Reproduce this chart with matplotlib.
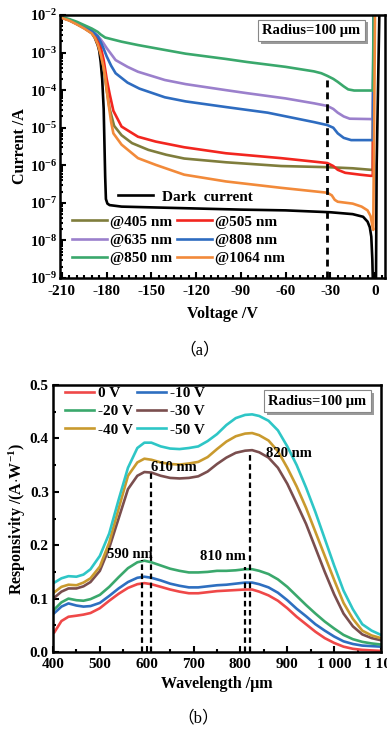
import numpy as np
import matplotlib
matplotlib.use('Agg')
import matplotlib.pyplot as plt
import matplotlib.patheffects as pe
from matplotlib.ticker import MultipleLocator, LogLocator, NullFormatter, FixedLocator, FixedFormatter

plt.rcParams['font.family'] = ['Liberation Serif', 'DejaVu Serif']
plt.rcParams['font.weight'] = 'bold'
plt.rcParams['axes.labelweight'] = 'bold'
plt.rcParams['axes.unicode_minus'] = False
plt.rcParams['mathtext.fontset'] = 'custom'
plt.rcParams['mathtext.rm'] = 'Liberation Serif:bold'
plt.rcParams['mathtext.it'] = 'Liberation Serif:bold'
plt.rcParams['mathtext.bf'] = 'Liberation Serif:bold'
plt.rcParams['mathtext.default'] = 'rm'

# ---------------- (a) I-V data, log10(current / A) ----------------
v_dark = [-210, -205, -200, -195, -190, -188, -186, -185, -184, -183, -182, -181.5, -181, -180.5, -179.5,
          -178, -170, -150, -120, -90, -60, -30, -15, -8, -5, -3.5, -2.5, -1.8, -1.2, 0.6, 1.1, 2.0, 2.9]
lg_dark = [-2.07, -2.14, -2.24, -2.35, -2.48, -2.6, -2.8, -2.95, -3.25, -3.7, -4.5, -5.4, -6.3, -6.9, -7.02,
           -7.06, -7.1, -7.12, -7.15, -7.18, -7.2, -7.25, -7.3, -7.37, -7.5, -7.65, -7.9, -8.5, -9.5, -9.5, -6.0, -4.0, -2.0]

v_405 = [-210, -205, -200, -195, -190, -186, -184, -182, -180, -178, -175, -170, -163, -152, -140, -128,
         -100, -63, -32, -15, -3, -1.5, -0.9]
lg_405 = [-2.07, -2.13, -2.22, -2.33, -2.46, -2.65, -3.0, -3.4, -4.0, -4.5, -4.95, -5.2, -5.41, -5.59, -5.72, -5.82,
          -5.92, -6.02, -6.05, -6.08, -6.12, -6.12, -2.0]

v_505 = [-210, -205, -200, -195, -190, -186, -184, -182, -180, -178, -175.5, -170, -159, -147, -128, -100,
         -63, -32, -28, -25, -20, -10, -3, -1.5, -0.9]
lg_505 = [-2.07, -2.13, -2.22, -2.33, -2.45, -2.62, -2.85, -3.2, -3.7, -4.1, -4.55, -4.97, -5.24, -5.37, -5.52, -5.68,
          -5.81, -5.94, -6.02, -6.12, -6.2, -6.25, -6.28, -6.28, -2.0]

v_635 = [-210, -205, -200, -195, -190, -186, -184, -182, -180, -177, -174, -166, -159, -141, -127, -100,
         -86, -60, -41, -32, -28, -25, -21, -17, -3, -1.5, -0.9]
lg_635 = [-2.07, -2.13, -2.21, -2.31, -2.42, -2.55, -2.65, -2.76, -2.88, -3.04, -3.2, -3.38, -3.51, -3.73, -3.84, -4.0,
          -4.08, -4.22, -4.35, -4.42, -4.5, -4.6, -4.7, -4.76, -4.77, -4.77, -2.0]

v_808 = [-210, -205, -200, -195, -190, -186, -184, -182, -180, -177, -174, -166, -158, -141, -127, -100,
         -72, -41, -32, -28, -25, -21, -16, -3, -1.5, -0.9]
lg_808 = [-2.07, -2.13, -2.21, -2.31, -2.42, -2.57, -2.72, -2.9, -3.1, -3.35, -3.55, -3.8, -3.96, -4.19, -4.3, -4.45,
          -4.6, -4.85, -4.93, -5.0, -5.15, -5.27, -5.33, -5.33, -5.33, -2.0]

v_850 = [-210, -205, -200, -195, -190, -186, -184, -181, -175, -170, -159, -141, -127, -100, -86, -60,
         -41, -36, -32, -28, -25, -21, -18, -14, -3, -1.5, -0.9]
lg_850 = [-2.06, -2.11, -2.18, -2.27, -2.36, -2.45, -2.52, -2.6, -2.66, -2.71, -2.8, -2.93, -3.03, -3.17, -3.25, -3.38,
          -3.5, -3.55, -3.62, -3.7, -3.78, -3.9, -3.98, -4.01, -4.01, -4.01, -2.0]

v_1064 = [-210, -205, -200, -195, -190, -188, -186, -184, -182, -181, -179, -177, -175.5, -170, -159, -147,
          -128, -100, -63, -32, -29, -27, -25, -15, -9, -5, -3, -1.8, -1.2, -0.6, 0.0]
lg_1064 = [-2.08, -2.15, -2.25, -2.36, -2.49, -2.6, -2.78, -3.05, -3.4, -3.64, -4.3, -4.85, -5.15, -5.45, -5.81, -5.99,
           -6.25, -6.43, -6.6, -6.73, -6.8, -6.92, -6.97, -7.02, -7.1, -7.2, -7.35, -7.6, -7.72, -5.0, -2.0]

light_labels = ['@405 nm', '@505 nm', '@635 nm', '@808 nm', '@850 nm', '@1064 nm']
light_colors = ['#7f7d3c', '#f2261f', '#9b80cc', '#2e6cc0', '#3aa86c', '#f28a3a']
v_mark = -32
lg_mark = -3.63

# ---------------- (b) responsivity data ----------------
wl = [403, 418, 433, 450, 465, 480, 500, 520, 540, 560, 580, 595, 610, 630, 650, 670, 690, 710, 730, 750,
      770, 790, 810, 825, 840, 860, 880, 900, 920, 940, 960, 980, 1000, 1020, 1040, 1060, 1080, 1100]
r_0 = [0.037, 0.058, 0.066, 0.068, 0.070, 0.073, 0.082, 0.096, 0.109, 0.120, 0.127, 0.129, 0.127, 0.122, 0.117,
       0.113, 0.110, 0.110, 0.112, 0.114, 0.115, 0.116, 0.117, 0.117, 0.113, 0.106, 0.096, 0.082, 0.066, 0.052,
       0.038, 0.026, 0.017, 0.010, 0.006, 0.004, 0.003, 0.002]
r_10 = [0.073, 0.085, 0.091, 0.087, 0.085, 0.086, 0.092, 0.105, 0.119, 0.131, 0.139, 0.141, 0.139, 0.134, 0.128,
        0.124, 0.121, 0.121, 0.123, 0.125, 0.126, 0.128, 0.130, 0.130, 0.127, 0.121, 0.111, 0.097, 0.081, 0.067,
        0.052, 0.040, 0.029, 0.020, 0.015, 0.012, 0.011, 0.010]
r_20 = [0.080, 0.093, 0.100, 0.097, 0.096, 0.099, 0.107, 0.122, 0.140, 0.157, 0.168, 0.171, 0.168, 0.162, 0.156,
        0.152, 0.149, 0.149, 0.150, 0.152, 0.152, 0.153, 0.155, 0.155, 0.152, 0.146, 0.136, 0.122, 0.105, 0.088,
        0.072, 0.057, 0.044, 0.032, 0.024, 0.019, 0.016, 0.014]
r_30 = [0.102, 0.113, 0.119, 0.119, 0.123, 0.131, 0.152, 0.195, 0.250, 0.305, 0.330, 0.337, 0.336, 0.330, 0.326,
        0.325, 0.326, 0.329, 0.338, 0.352, 0.364, 0.373, 0.377, 0.378, 0.374, 0.364, 0.345, 0.315, 0.278, 0.240,
        0.195, 0.150, 0.108, 0.072, 0.048, 0.033, 0.026, 0.022]
r_40 = [0.112, 0.122, 0.126, 0.125, 0.130, 0.138, 0.160, 0.205, 0.268, 0.330, 0.355, 0.362, 0.360, 0.355, 0.352,
        0.351, 0.353, 0.356, 0.365, 0.380, 0.394, 0.404, 0.409, 0.410, 0.406, 0.396, 0.376, 0.345, 0.310, 0.270,
        0.225, 0.180, 0.135, 0.092, 0.062, 0.040, 0.031, 0.026]
r_50 = [0.130, 0.138, 0.142, 0.141, 0.145, 0.155, 0.180, 0.222, 0.285, 0.345, 0.382, 0.392, 0.392, 0.385, 0.381,
        0.380, 0.382, 0.385, 0.395, 0.408, 0.425, 0.438, 0.444, 0.445, 0.442, 0.433, 0.415, 0.385, 0.350, 0.308,
        0.262, 0.212, 0.162, 0.115, 0.080, 0.052, 0.040, 0.032]
bias_labels = ['0 V', '-10 V', '-20 V', '-30 V', '-40 V', '-50 V']
bias_colors = ['#ef4848', '#2e6fc0', '#3aa86c', '#7a4e4e', '#c99a2e', '#2ec6c6']

peak_wl = [590, 610, 810, 820]
peak_r = [0.172, 0.335, 0.160, 0.375]
peak_text = ['590 nm', '610 nm', '810 nm', '820 nm']
text_pos = [(565, 0.183), (610, 0.346), (762, 0.178), (854, 0.372)]
text_ha = ['center', 'left', 'center', 'left']

xt_b = [400, 500, 600, 700, 800, 900, 1000, 1100]
xt_b_labels = ['400', '500', '600', '700', '800', '900', '1 000', '1 100']


def style_axes(ax):
    for s in ax.spines.values():
        s.set_linewidth(1.8)
    ax.tick_params(which='both', direction='in', labelsize=11, width=1.5, top=False, right=False)
    ax.tick_params(which='major', length=4.5, pad=3)
    ax.tick_params(which='minor', length=2.5)


def bold_ticks(ax):
    for lab in ax.get_xticklabels() + ax.get_yticklabels():
        lab.set_fontweight('bold')


def radius_box(ax, x, y):
    t = ax.text(x, y, 'Radius=100 μm', transform=ax.transAxes, ha='center', va='center',
                fontsize=10.5, fontweight='bold', zorder=10,
                bbox=dict(boxstyle='square,pad=0.3', fc='white', ec='#888888', lw=0.8))
    t.get_bbox_patch().set_path_effects([pe.withSimplePatchShadow(offset=(2, -2), shadow_rgbFace='#9a9a9a', alpha=1.0)])


fig = plt.figure(figsize=(3.87, 7.34), dpi=100)

# ---------- (a) ----------
ax1 = fig.add_axes([60 / 387, 1 - 278 / 734, 325 / 387, 263 / 734])
style_axes(ax1)
ax1.tick_params(axis='y', labelsize=10.5, pad=2)
ax1.tick_params(axis='x', which='major', pad=5)
dark, = ax1.plot(v_dark, 10 ** np.array(lg_dark), color='black', lw=1.9, label='Dark  current')
curves = [(v_405, lg_405), (v_505, lg_505), (v_635, lg_635), (v_808, lg_808), (v_850, lg_850), (v_1064, lg_1064)]
handles = []
for (v, lg), c, lab in zip(curves, light_colors, light_labels):
    h, = ax1.plot(v, 10 ** np.array(lg), color=c, lw=1.9, label=lab)
    handles.append(h)
ax1.plot([v_mark, v_mark], [1e-9, 10 ** lg_mark], color='black', lw=2.0, dashes=(2.5, 1.8))
ax1.set_yscale('log')
ax1.set_xlim(-211.3, 6.7)
ax1.set_ylim(1e-9, 1e-2)
ax1.xaxis.set_major_locator(MultipleLocator(30))
ax1.xaxis.set_minor_locator(MultipleLocator(5))
ax1.yaxis.set_major_locator(LogLocator(base=10, numticks=12))
ax1.yaxis.set_minor_locator(LogLocator(base=10, subs=np.arange(2, 10), numticks=12))
ax1.yaxis.set_minor_formatter(NullFormatter())
ax1.set_xlabel('Voltage /V', fontsize=11.5)
ax1.set_ylabel('Current /A', fontsize=11.5)
ax1.xaxis.set_label_coords(0.5, -0.105)
ax1.yaxis.set_label_coords(-0.098, 0.5)
bold_ticks(ax1)

leg1 = ax1.legend(handles=[dark], loc='center left', bbox_to_anchor=(0.178, 0.308), frameon=False,
                  fontsize=11, handlelength=2.3, handletextpad=0.6, borderpad=0, borderaxespad=0)
ax1.add_artist(leg1)
# row-wise order like the original legend
order = [0, 2, 4, 1, 3, 5]
ax1.legend(handles=[handles[i] for i in order], loc='upper left', bbox_to_anchor=(0.037, 0.24), ncol=2,
           frameon=False, fontsize=11, handlelength=2.3, handletextpad=0.2, columnspacing=0.3,
           labelspacing=0.3, borderpad=0, borderaxespad=0)
radius_box(ax1, 0.774, 0.941)

# ---------- (b) ----------
ax2 = fig.add_axes([53 / 387, 1 - 652 / 734, 328 / 387, 267 / 734])
style_axes(ax2)
ax2.tick_params(axis='x', which='major', pad=4.5)
bh = []
for r, c, lab in zip([r_0, r_10, r_20, r_30, r_40, r_50], bias_colors, bias_labels):
    h, = ax2.plot(wl, r, color=c, lw=1.9, label=lab)
    bh.append(h)
for xw, yr in zip(peak_wl, peak_r):
    ax2.plot([xw, xw], [0, yr], color='black', lw=1.6, dashes=(2.5, 1.6))
for (tx, ty), s, ha in zip(text_pos, peak_text, text_ha):
    ax2.text(tx, ty, s, ha=ha, va='center', fontsize=10.5, fontweight='bold')
ax2.set_xlim(400, 1100)
ax2.set_ylim(0, 0.5)
ax2.xaxis.set_major_locator(FixedLocator(xt_b))
ax2.xaxis.set_major_formatter(FixedFormatter(xt_b_labels))
ax2.xaxis.set_minor_locator(MultipleLocator(50))
ax2.yaxis.set_major_locator(MultipleLocator(0.1))
ax2.yaxis.set_minor_locator(MultipleLocator(0.05))
ax2.yaxis.set_major_formatter(plt.FormatStrFormatter('%.1f'))
ax2.set_xlabel('Wavelength /μm', fontsize=11.5)
ax2.set_ylabel(r'Responsivity /(A$\cdot$W$^{-1}$)', fontsize=11.5)
ax2.xaxis.set_label_coords(0.5, -0.09)
ax2.yaxis.set_label_coords(-0.076, 0.5)
bold_ticks(ax2)
ax2.legend(handles=[bh[i] for i in order], loc='upper left', bbox_to_anchor=(0.037, 0.995), ncol=2,
           frameon=False, fontsize=11, handlelength=1.9, handletextpad=0.25, columnspacing=0.3,
           labelspacing=0.3, borderpad=0, borderaxespad=0)
radius_box(ax2, 0.806, 0.940)

cap = ['Liberation Serif', 'Noto Sans CJK SC']
fig.text(200 / 387, 1 - 350 / 734, '（a）', ha='center', va='center', fontsize=12, fontweight='normal', family=cap)
fig.text(198 / 387, 1 - 718 / 734, '（b）', ha='center', va='center', fontsize=12, fontweight='normal', family=cap)

fig.savefig('out.png', dpi=100)
